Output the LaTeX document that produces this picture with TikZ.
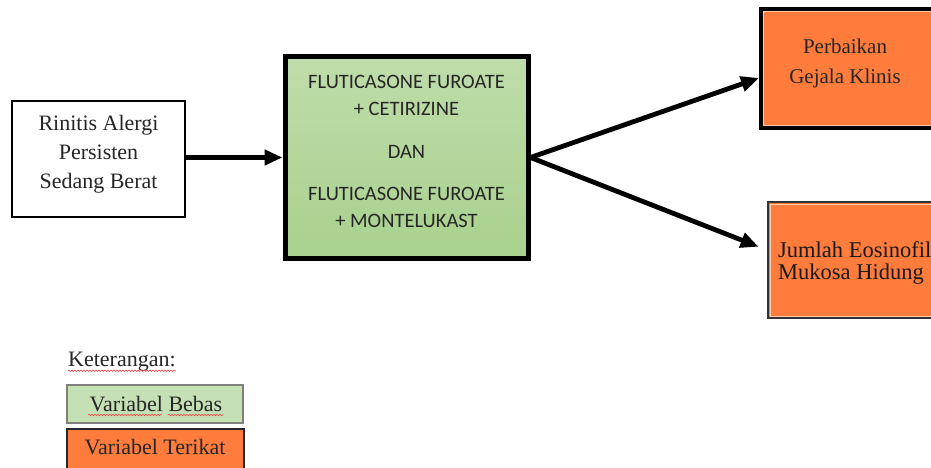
\documentclass[tikz,border=0pt]{standalone}
\usepackage{fontspec}
\setmainfont{Liberation Serif}
\newfontfamily\calib{Carlito}
\usetikzlibrary{arrows.meta,decorations.pathmorphing,calc}
\definecolor{gfill}{HTML}{A9D18E}
\definecolor{glight}{HTML}{C5E0B4}
\definecolor{ofill}{HTML}{FF7C3C}
\definecolor{olight}{HTML}{F8CBAD}
\begin{document}
\begin{tikzpicture}[x=1pt,y=-1pt,
  serif/.style={font=\fontsize{22}{29}\selectfont, text=black!85},
  sans/.style={font=\calib\fontsize{20.5}{27}\selectfont, text=black!85},
  arr/.style={line width=4.8pt,-{Triangle[length=18pt,width=15pt]}},
  txt/.style={inner sep=0pt, align=center},
  wavy/.style={red!75, line width=0.6pt, decorate, decoration={snake, amplitude=0.7pt, segment length=3pt}}]
\clip (0,0) rectangle (931,468);
\fill[white] (0,0) rectangle (931,468);
% left box
\node[draw, line width=1.5pt, fill=white, minimum width=173pt, minimum height=116pt] (rin) at (98.5,159) {};
\node[txt, serif] (rint) at (98.5,154) {Rinitis Alergi\\Persisten\\Sedang Berat};
% green box
\node[draw, line width=5pt, top color=gfill!75!white, bottom color=gfill, minimum width=243pt, minimum height=201pt] (green) at (406.5,157.5) {};
\node[txt, sans] (g1) at (406.5,95.5) {FLUTICASONE FUROATE\\+ CETIRIZINE};
\node[txt, sans] (g2) at (406.5,152) {DAN};
\node[txt, sans] (g3) at (406.5,207.5) {FLUTICASONE FUROATE\\+ MONTELUKAST};
% top orange
\node[draw, line width=4pt, fill=ofill, minimum width=230pt, minimum height=119pt] (top) at (876,68.5) {};
\draw[olight, line width=1.8pt] ([shift={(4.5,4.5)}]top.north west) rectangle ([shift={(-4.5,-4.5)}]top.south east);
\node[txt, font=\fontsize{21}{30}\selectfont, text=black!85] (topt) at (845,63) {Perbaikan\\Gejala Klinis};
% bottom orange
\node[draw=black!80, line width=2pt, fill=ofill, minimum width=232pt, minimum height=116pt] (bot) at (884,260) {};
\draw[olight, line width=0.8pt] ([shift={(3,3)}]bot.north west) rectangle ([shift={(-3,-3)}]bot.south east);
\node[inner sep=0pt, align=left, anchor=west, font=\fontsize{22.5}{22}\selectfont, text=black!90] (bott) at (778,263) {Jumlah Eosinofil\\Mukosa Hidung};
% arrows
\draw[arr] (rin.east |- green.west) -- (green.west);
\draw[arr] (green.east) -- ([yshift=-9.5pt]top.west);
\draw[arr, shorten >=9pt] (green.east) -- ([yshift=10pt]bot.west);
% legend
\node[txt, serif, anchor=west] (ket) at (68,362) {Keterangan:};
\draw[wavy] ([yshift=1pt]ket.south west) -- ([yshift=1pt]ket.south east);
\node[draw=black!50, line width=1.2pt, fill=glight, minimum width=176pt, minimum height=38pt] (lgb) at (155,404) {};
\node[txt, serif] (lgbt) at (156,404) {Variabel Bebas};
\draw[wavy] (88,415) -- (162,415);
\draw[wavy] (168,415) -- (223,415);
\node[draw=black!85, line width=2pt, fill=ofill, minimum width=177pt, minimum height=45pt] (lgo) at (155.5,451.5) {};
\node[txt, serif] (lgot) at (155,447) {Variabel Terikat};
\end{tikzpicture}
\end{document}
